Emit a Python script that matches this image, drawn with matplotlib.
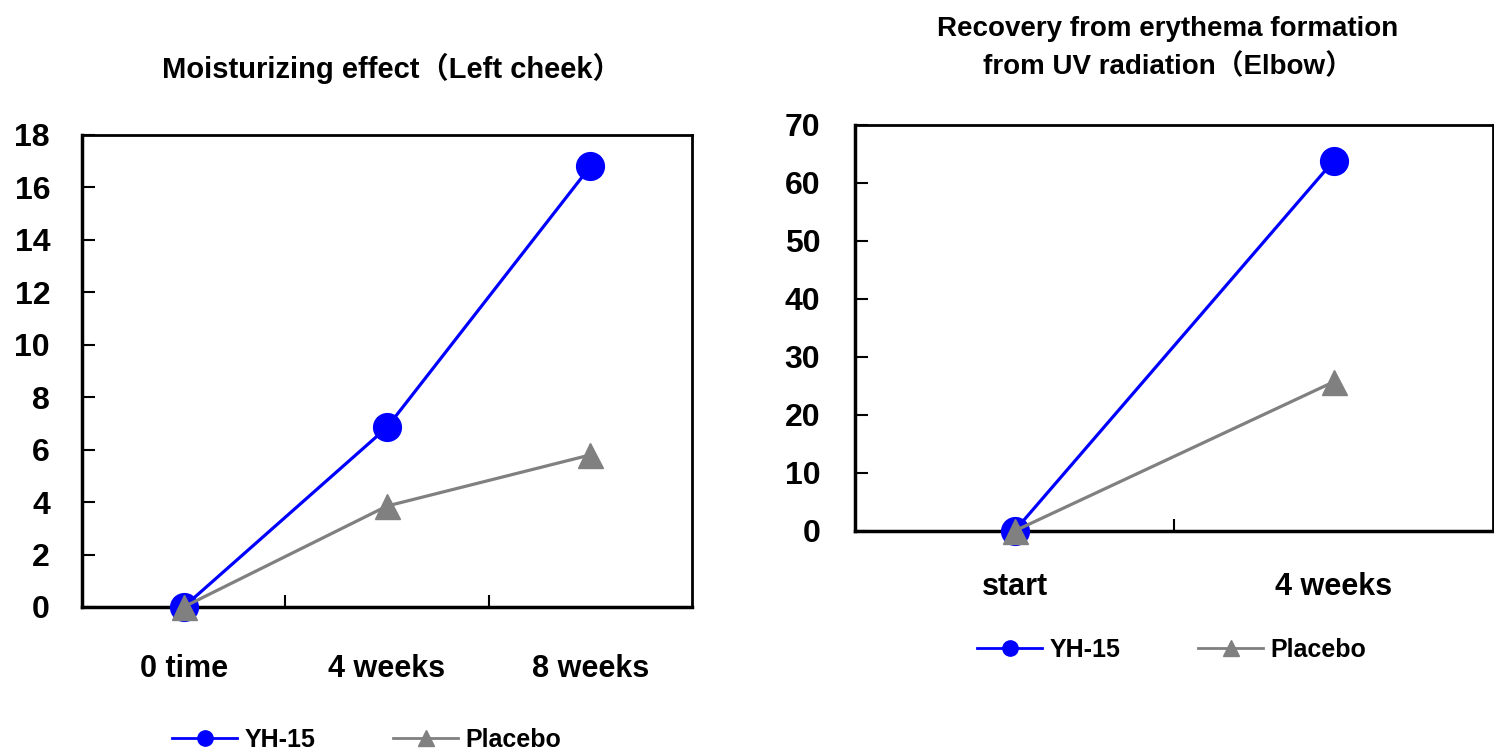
import matplotlib
matplotlib.use("Agg")
import matplotlib.pyplot as plt
from matplotlib.lines import Line2D

FAM = ['Liberation Sans', 'Noto Sans CJK JP', 'DejaVu Sans']
plt.rcParams['font.family'] = FAM
plt.rcParams['font.weight'] = 'bold'

left_categories = ["0 time", "4 weeks", "8 weeks"]
left_yh15 = [0, 6.85, 16.8]
left_placebo = [0, 3.85, 5.8]
left_yticks = [0, 2, 4, 6, 8, 10, 12, 14, 16, 18]

right_categories = ["start", "4 weeks"]
right_yh15 = [0, 63.8]
right_placebo = [0, 25.7]
right_yticks = [0, 10, 20, 30, 40, 50, 60, 70]

series_names = ["YH-15", "Placebo"]

W, H = 1494, 752
fig = plt.figure(figsize=(W / 100, H / 100), dpi=100)

def px_axes(l, t, r, b):
    return fig.add_axes([l / W, 1 - b / H, (r - l) / W, (b - t) / H])

BLUE = "#0000FF"
GRAY = "#808080"

def style(ax, cats, yticks, ymax, pad):
    n = len(cats)
    ax.set_xlim(-0.5, n - 0.5)
    ax.set_ylim(0, ymax)
    ax.set_yticks(yticks)
    ax.set_yticklabels([str(v) for v in yticks], fontsize=23, fontweight='bold')
    ax.set_xticks([i + 0.5 for i in range(n - 1)])
    ax.set_xticklabels([])
    ax.tick_params(axis='y', direction='in', length=9, width=1.5, pad=pad)
    ax.tick_params(axis='x', direction='in', length=9, width=1.5)
    for i, c in enumerate(cats):
        ax.text(i, -0.1, c, transform=ax.get_xaxis_transform(), ha='center', va='top',
                fontsize=22, fontweight='bold')
    ax.spines['left'].set_linewidth(2.5)
    ax.spines['bottom'].set_linewidth(2.5)
    ax.spines['top'].set_linewidth(2)
    ax.spines['right'].set_linewidth(2)

# Left chart
ax1 = px_axes(82, 135, 692, 607)
x1 = list(range(len(left_categories)))
ax1.plot(x1, left_yh15, color=BLUE, lw=2.3, marker='o', ms=20, zorder=3, clip_on=False)
ax1.plot(x1, left_placebo, color=GRAY, lw=2.3, marker='^', ms=18, zorder=4, clip_on=False)
style(ax1, left_categories, left_yticks, 18, 23)
fig.text(392 / W, 1 - 68 / H, "Moisturizing effect\uFF08Left cheek\uFF09", ha='center', va='center',
         fontsize=21, fontweight='bold', family=FAM)

# Right chart
ax2 = px_axes(855, 125, 1493, 531)
x2 = list(range(len(right_categories)))
ax2.plot(x2, right_yh15, color=BLUE, lw=2.3, marker='o', ms=20, zorder=3, clip_on=False)
ax2.plot(x2, right_placebo, color=GRAY, lw=2.3, marker='^', ms=18, zorder=4, clip_on=False)
style(ax2, right_categories, right_yticks, 70, 25)
fig.text(1168 / W, 1 - 48 / H, "Recovery from erythema formation\nfrom UV radiation\uFF08Elbow\uFF09",
         ha='center', va='center', fontsize=20, fontweight='bold', linespacing=1.55,
         family=FAM)

handles = [Line2D([], [], color=BLUE, lw=2, marker='o', ms=11),
           Line2D([], [], color=GRAY, lw=2, marker='^', ms=12)]

fig.legend(handles, series_names, loc='center', bbox_to_anchor=(367 / W, 1 - 740 / H),
           ncol=2, frameon=False, handlelength=2.6, columnspacing=3.1,
           handletextpad=0.3, prop={'weight': 'bold', 'size': 18})
fig.legend(handles, series_names, loc='center', bbox_to_anchor=(1172 / W, 1 - 650 / H),
           ncol=2, frameon=False, handlelength=2.6, columnspacing=3.1,
           handletextpad=0.3, prop={'weight': 'bold', 'size': 18})

fig.savefig("out.png", dpi=100, facecolor='white')
